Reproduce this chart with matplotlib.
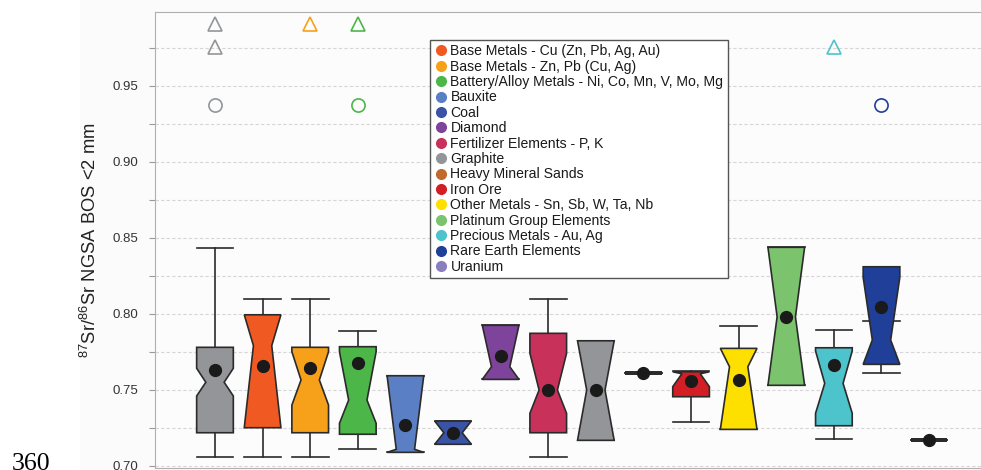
import matplotlib.pyplot as plt
from matplotlib.lines import Line2D
from matplotlib.patches import Rectangle
from matplotlib.ticker import MultipleLocator, FuncFormatter

plt.rcParams['font.family'] = ['Liberation Sans', 'DejaVu Sans']
plt.rcParams['mathtext.fontset'] = 'custom'
plt.rcParams['mathtext.rm'] = 'Liberation Sans'

commodities = ["All samples",
               "Base Metals - Cu (Zn, Pb, Ag, Au)",
               "Base Metals - Zn, Pb (Cu, Ag)",
               "Battery/Alloy Metals - Ni, Co, Mn, V, Mo, Mg",
               "Bauxite",
               "Coal",
               "Diamond",
               "Fertilizer Elements - P, K",
               "Graphite",
               "Heavy Mineral Sands",
               "Iron Ore",
               "Other Metals - Sn, Sb, W, Ta, Nb",
               "Platinum Group Elements",
               "Precious Metals - Au, Ag",
               "Rare Earth Elements",
               "Uranium"]
colors = ["#939598", "#f05a22", "#f7a11a", "#4cb748", "#5b7fc4", "#3a53a4",
          "#7e439a", "#c8325a", "#939598", "#c0692c", "#d21f26", "#fde000",
          "#7cc36e", "#4dc3cc", "#1f3f99", "#8a7fbd"]

# box statistics (87Sr/86Sr)
whislo = [0.7059, 0.7059, 0.7059, 0.7112, 0.7088, 0.7141, 0.7568, 0.7059,
          0.7167, 0.7608, 0.7290, 0.7239, 0.7529, 0.7174, 0.7608, 0.7169]
q1 = [0.7217, 0.7250, 0.7217, 0.7207, 0.7088, 0.7141, 0.7568, 0.7217,
      0.7167, 0.7608, 0.7454, 0.7239, 0.7529, 0.7263, 0.7667, 0.7169]
cilo = [0.7459, 0.7250, 0.7399, 0.7279, 0.7088, 0.7141, 0.7568, 0.7345,
        0.7167, 0.7608, 0.7520, 0.7239, 0.7529, 0.7345, 0.7667, 0.7169]
med = [0.7549, 0.7790, 0.7564, 0.7432, 0.7108, 0.7217, 0.7651, 0.7498,
       0.7498, 0.7608, 0.7605, 0.7651, 0.7980, 0.7542, 0.7827, 0.7169]
cihi = [0.7641, 0.7993, 0.7750, 0.7750, 0.7592, 0.7294, 0.7924, 0.7740,
        0.7822, 0.7608, 0.7618, 0.7772, 0.8437, 0.7755, 0.8240, 0.7169]
q3 = [0.7779, 0.7993, 0.7779, 0.7783, 0.7592, 0.7294, 0.7924, 0.7871,
      0.7822, 0.7608, 0.7618, 0.7772, 0.8437, 0.7776, 0.8309, 0.7169]
whishi = [0.8434, 0.8095, 0.8095, 0.7884, 0.7592, 0.7294, 0.7924, 0.8095,
          0.7822, 0.7608, 0.7620, 0.7921, 0.8437, 0.7893, 0.7954, 0.7169]
means = [0.7630, 0.7656, 0.7641, 0.7674, 0.7268, 0.7217, 0.7722, 0.7498,
         0.7498, 0.7608, 0.7557, 0.7567, 0.7980, 0.7662, 0.8046, 0.7169]

# extreme values (triangles) and outliers (circles)
extreme_box = [1, 1, 3, 4, 14]
extreme_val = [0.9904, 0.9753, 0.9904, 0.9904, 0.9753]
outlier_box = [1, 4, 15]
outlier_val = [0.9373, 0.9373, 0.9373]

positions = list(range(1, len(commodities) + 1))

fig = plt.figure(figsize=(9.81, 4.7), dpi=100)
fig.patches.append(Rectangle((80 / 981, 0), 1, 1, transform=fig.transFigure,
                             color="#fbfbfb", zorder=-1))
ax = fig.add_axes([0.158, 0.0036, 0.842, 0.9715])
ax.set_facecolor("#fcfcfc")

stats = []
for i in range(len(commodities)):
    stats.append(dict(label=commodities[i], whislo=whislo[i], q1=q1[i], med=med[i],
                      q3=q3[i], whishi=whishi[i], cilo=cilo[i], cihi=cihi[i],
                      mean=means[i], fliers=[]))

edge = "#2b2b2b"
bp = ax.bxp(stats, positions=positions, widths=0.77, capwidths=0.77, shownotches=True,
            patch_artist=True, showmeans=True, showfliers=False, manage_ticks=False,
            boxprops=dict(edgecolor=edge, linewidth=1.2, zorder=3),
            whiskerprops=dict(color=edge, linewidth=1.2, zorder=2),
            capprops=dict(color=edge, linewidth=1.2, zorder=2),
            medianprops=dict(linewidth=0),
            meanprops=dict(marker="o", markerfacecolor="#1a1a1a",
                           markeredgecolor="#1a1a1a", markersize=8.5, zorder=4))
for i, box in enumerate(bp["boxes"]):
    box.set_facecolor(colors[i])
    # single-value groups collapse to a thick line
    if q1[i] == q3[i]:
        box.set_linewidth(2.6)

for b, v in zip(extreme_box, extreme_val):
    ax.plot(b, v, marker="^", markersize=10, markerfacecolor="none",
            markeredgecolor=colors[b - 1], markeredgewidth=1.2, linestyle="none")
for b, v in zip(outlier_box, outlier_val):
    ax.plot(b, v, marker="o", markersize=9.5, markerfacecolor="none",
            markeredgecolor=colors[b - 1], markeredgewidth=1.2, linestyle="none")

ax.set_xlim(-0.26, 17.09)
ax.set_ylim(0.6983, 0.9987)
ax.set_xticks([])
ax.yaxis.set_major_locator(MultipleLocator(0.025))
ax.yaxis.set_major_formatter(FuncFormatter(
    lambda v, p: f"{v:.2f}" if round(v / 0.025) % 2 == 0 else ""))
ax.tick_params(axis="y", length=4, color="#9a9a9a", labelcolor="#333333",
               labelsize=9.5, pad=8)
ax.yaxis.grid(True, linestyle=(0, (3, 2)), color="#d6d6d6", linewidth=0.8)
ax.set_axisbelow(True)
for s in ["left", "top", "bottom"]:
    ax.spines[s].set_color("#b0b0b0")
ax.spines["right"].set_visible(False)

ax.set_ylabel(r"$^{87}$Sr/$^{86}$Sr NGSA BOS <2 mm", fontsize=13.2, color="#222222",
              labelpad=9)

handles = [Line2D([], [], marker="o", linestyle="none", markersize=7,
                  markerfacecolor=c, markeredgecolor=c) for c in colors[1:]]
leg = ax.legend(handles, commodities[1:], loc="upper left",
                bbox_to_anchor=(0.333, 0.938), borderaxespad=0, fontsize=10.1,
                labelspacing=0.1, handletextpad=0.15, handlelength=1.0,
                borderpad=0.3, fancybox=False, edgecolor="#555555", framealpha=1)
leg.get_frame().set_linewidth(1.0)
for t in leg.get_texts():
    t.set_color("#1a1a1a")

fig.text(12 / 981, 0.0, "360", family="Liberation Serif", fontsize=18.5,
         va="baseline")

fig.savefig("out.png", dpi=100)
